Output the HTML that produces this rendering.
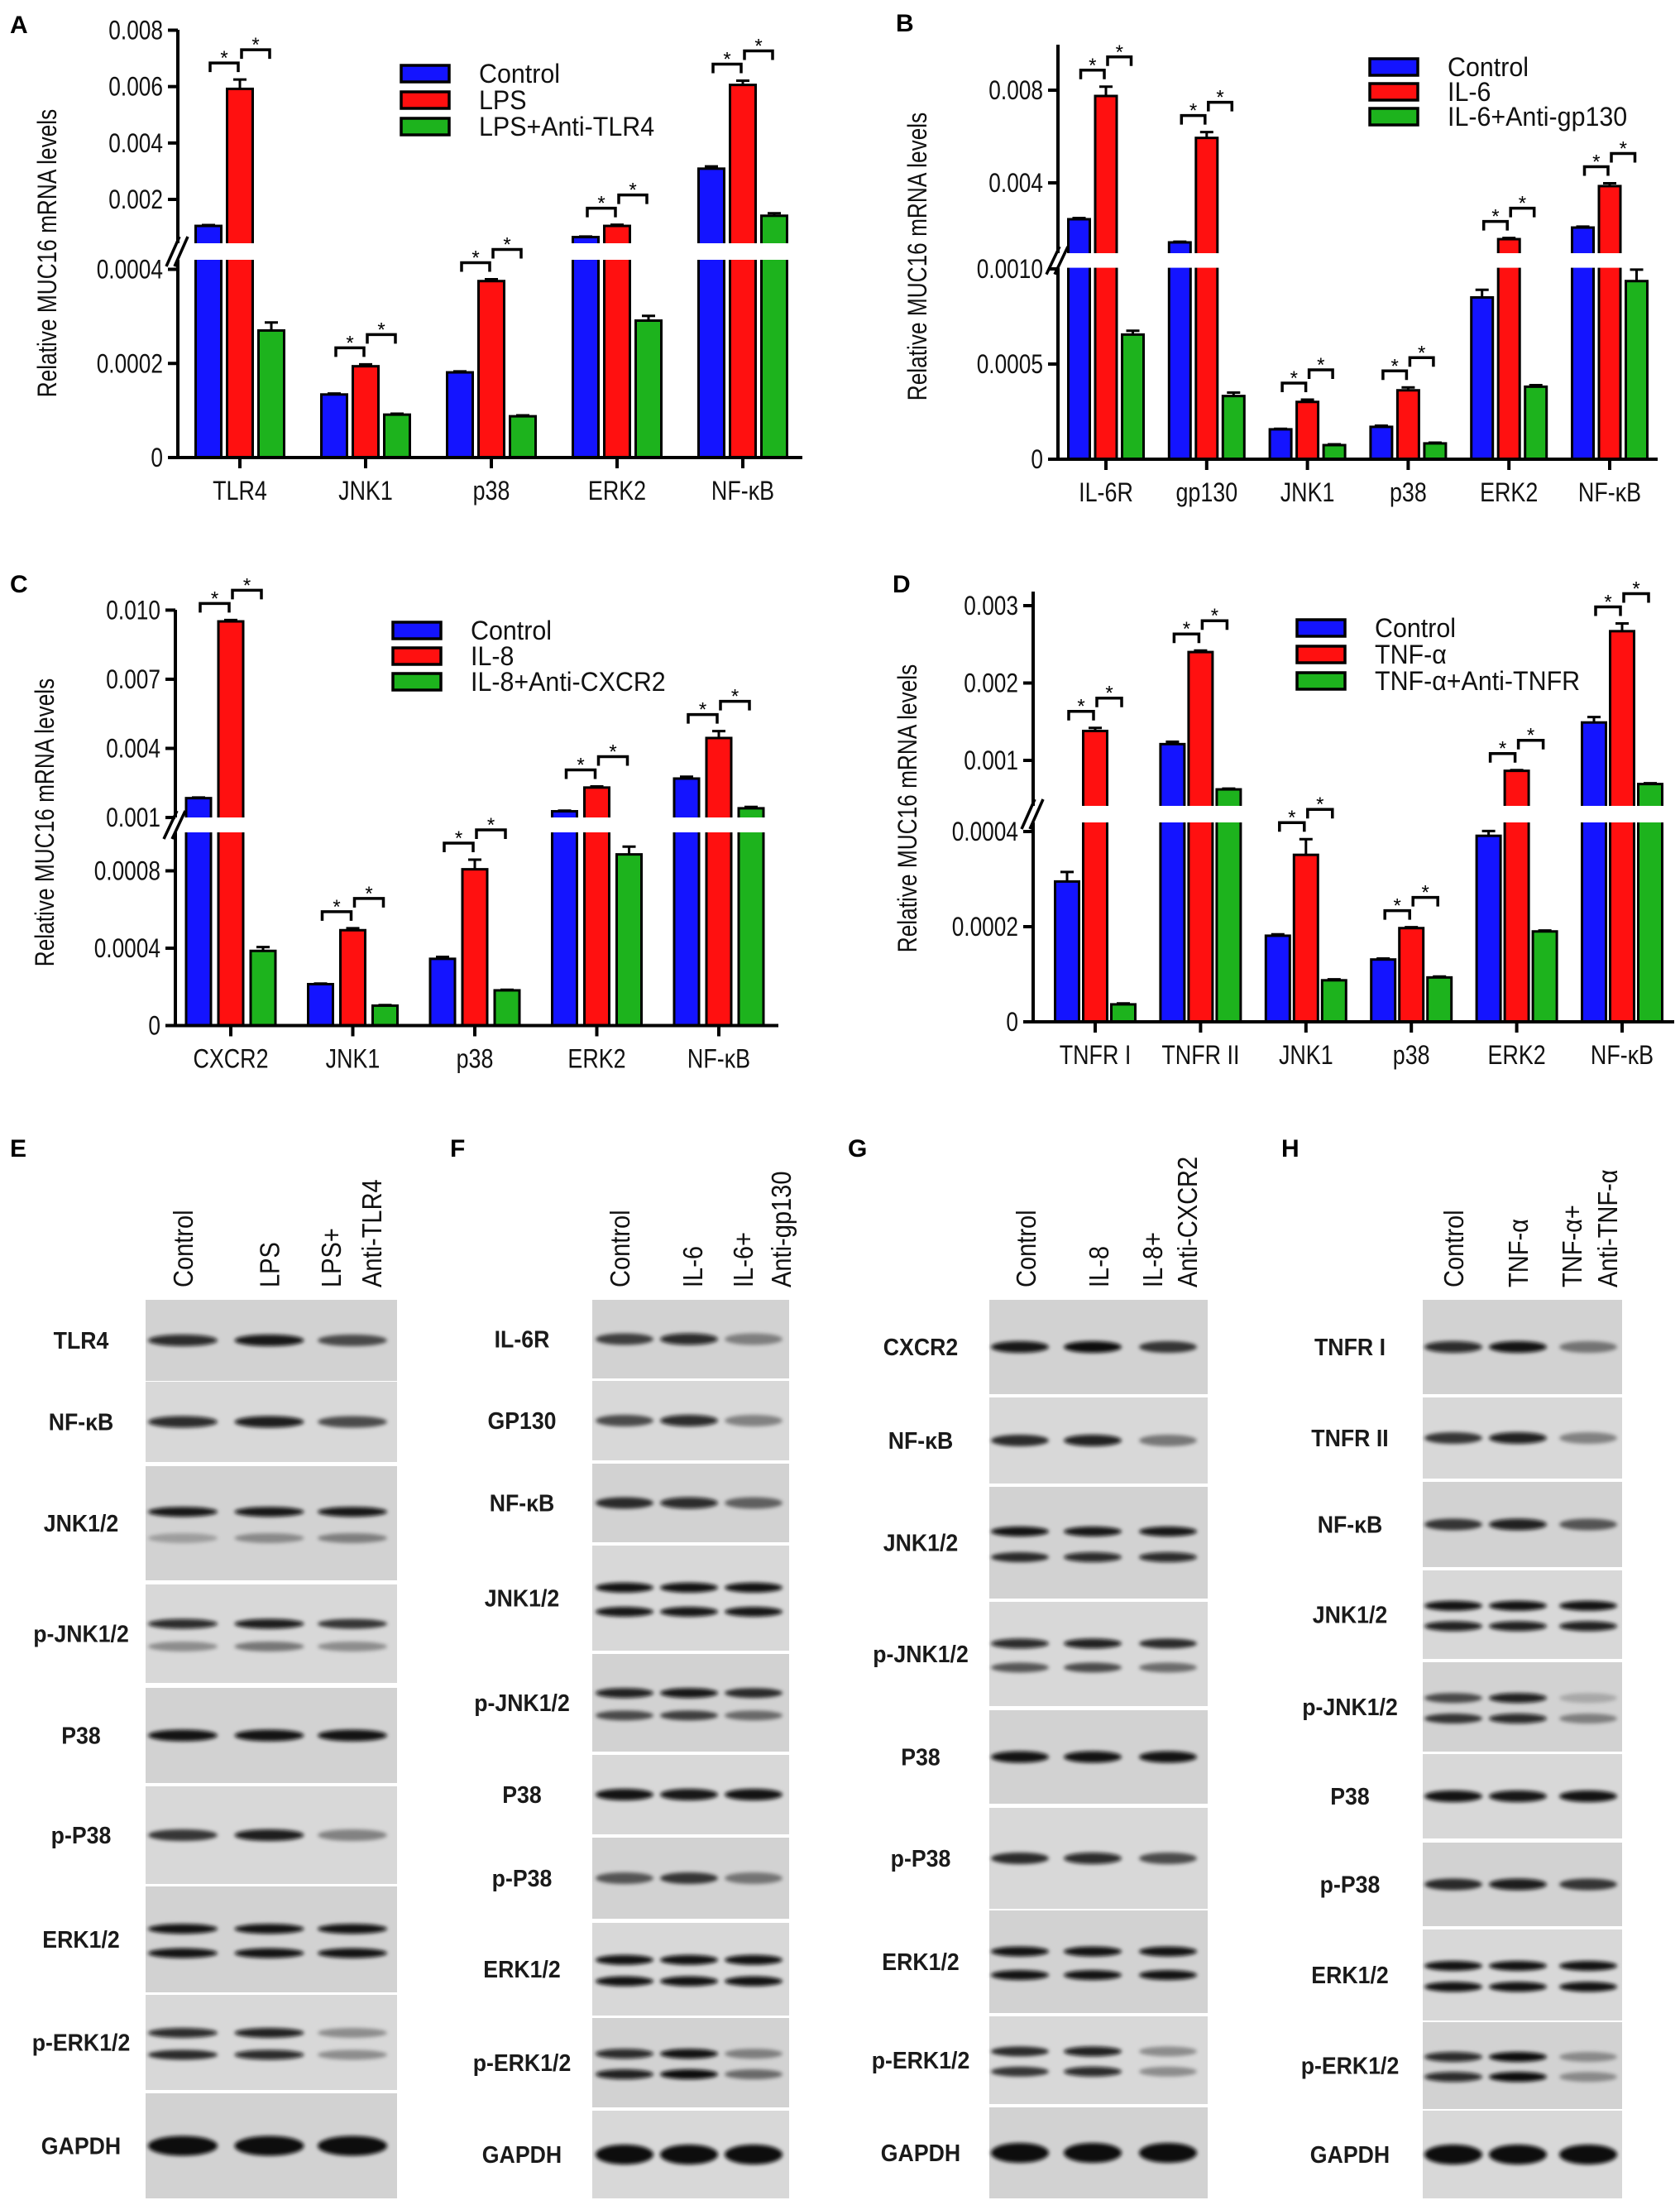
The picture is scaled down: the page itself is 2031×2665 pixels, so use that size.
<!DOCTYPE html>
<html><head><meta charset="utf-8"><title>MUC16 signalling figure</title>
<style>
html,body{margin:0;padding:0;background:#fff;}
svg{display:block;font-family:"Liberation Sans",Arial,sans-serif;}
</style></head>
<body>
<svg id="fig" width="2031" height="2665" viewBox="0 0 2031 2665" xmlns="http://www.w3.org/2000/svg">
<defs><filter id="blur" x="-20%" y="-100%" width="140%" height="300%"><feGaussianBlur stdDeviation="2.4"/></filter></defs>
</svg>
<script>
// ---------- Panel A data ----------
const aCategories=['TLR4','JNK1','p38','ERK2','NF-κB'];
const aLegend=['Control','LPS','LPS+Anti-TLR4'];
const aControl=[0.00106,0.000134,0.000181,0.000663,0.00309];
const aTreat=[0.00592,0.000194,0.000375,0.00106,0.00606];
const aAnti=[0.00027,0.0000912,0.0000877,0.000291,0.00142];
const aErrControl=[0.00003,0.000002,0.000002,0.00002,0.00008];
const aErrTreat=[0.00033,0.000004,0.000004,0.00004,0.00015];
const aErrAnti=[0.000017,0.000002,0.000002,0.00001,0.00009];
const aUpperTicks=[0.002,0.004,0.006,0.008];
const aUpperTickLabels=['0.002','0.004','0.006','0.008'];
const aLowerTicks=[0,0.0002,0.0004];
const aLowerTickLabels=['0','0.0002','0.0004'];
// ---------- Panel B data ----------
const bCategories=['IL-6R','gp130','JNK1','p38','ERK2','NF-κB'];
const bLegend=['Control','IL-6','IL-6+Anti-gp130'];
const bControl=[0.00243,0.00143,0.000157,0.00017,0.00085,0.00207];
const bTreat=[0.00775,0.00594,0.000301,0.000362,0.00157,0.00386];
const bAnti=[0.000655,0.000332,0.000074,0.000083,0.000381,0.000936];
const bErrControl=[0.00005,0.00003,0.000003,0.000006,0.00004,0.00004];
const bErrTreat=[0.0004,0.00025,0.000012,0.000015,0.00005,0.00012];
const bErrAnti=[0.00002,0.000018,0.000004,0.000004,0.000008,0.00006];
const bUpperTicks=[0.004,0.008];
const bUpperTickLabels=['0.004','0.008'];
const bLowerTicks=[0,0.0005,0.001];
const bLowerTickLabels=['0','0.0005','0.0010'];
// ---------- Panel C data ----------
const cCategories=['CXCR2','JNK1','p38','ERK2','NF-κB'];
const cLegend=['Control','IL-8','IL-8+Anti-CXCR2'];
const cControl=[0.00184,0.000214,0.000345,0.00127,0.00269];
const cTreat=[0.00951,0.000493,0.000808,0.0023,0.00445];
const cAnti=[0.000386,0.000103,0.000182,0.000885,0.0014];
const cErrControl=[0.00003,0.000003,0.00001,0.00003,0.00008];
const cErrTreat=[0.00006,0.00001,0.00005,0.00005,0.0003];
const cErrAnti=[0.00002,0.000003,0.000003,0.00004,0.00006];
const cUpperTicks=[0.001,0.004,0.007,0.010];
const cUpperTickLabels=['0.001','0.004','0.007','0.010'];
const cLowerTicks=[0,0.0004,0.0008];
const cLowerTickLabels=['0','0.0004','0.0008'];
// ---------- Panel D data ----------
const dCategories=['TNFR I','TNFR II','JNK1','p38','ERK2','NF-κB'];
const dLegend=['Control','TNF-α','TNF-α+Anti-TNFR'];
const dControl=[0.000295,0.00121,0.000181,0.000131,0.000391,0.00149];
const dTreat=[0.00138,0.0024,0.000351,0.000197,0.000865,0.00267];
const dAnti=[0.0000367,0.000625,0.0000873,0.0000933,0.00019,0.000694];
const dErrControl=[0.00002,0.00003,0.000003,0.000002,0.00001,0.00007];
const dErrTreat=[0.00004,0.00002,0.000033,0.000002,0.00001,0.0001];
const dErrAnti=[0.000002,0.00001,0.000002,0.000002,0.000002,0.00001];
const dUpperTicks=[0.001,0.002,0.003];
const dUpperTickLabels=['0.001','0.002','0.003'];
const dLowerTicks=[0,0.0002,0.0004];
const dLowerTickLabels=['0','0.0002','0.0004'];

// ---------- Blot data ----------
const eLabels=['TLR4','NF-κB','JNK1/2','p-JNK1/2','P38','p-P38','ERK1/2','p-ERK1/2','GAPDH'];
const eUpper=[[.85,.95,.65],[.85,.92,.65],[.95,.95,.95],[.85,.92,.75],[.97,.97,.97],[.75,.92,.4],[.97,.97,.97],[.85,.9,.35],[1,1,1]];
const eLower=[null,null,[.25,.35,.4],[.35,.45,.35],null,null,[.97,.97,.97],[.8,.85,.35],null];
const eHeaders=['Control','LPS','LPS+','Anti-TLR4'];
const fLabels=['IL-6R','GP130','NF-κB','JNK1/2','p-JNK1/2','P38','p-P38','ERK1/2','p-ERK1/2','GAPDH'];
const fUpper=[[.7,.85,.4],[.65,.85,.4],[.8,.85,.55],[.97,.97,.97],[.9,.95,.8],[.97,.95,.97],[.6,.75,.45],[.97,.97,.97],[.85,.97,.4],[1,1,1]];
const fLower=[null,null,null,[.95,.95,.95],[.65,.7,.5],null,null,[.97,.97,.97],[.9,1,.5],null];
const fHeaders=['Control','IL-6','IL-6+','Anti-gp130'];
const gLabels=['CXCR2','NF-κB','JNK1/2','p-JNK1/2','P38','p-P38','ERK1/2','p-ERK1/2','GAPDH'];
const gUpper=[[.95,1,.75],[.8,.9,.45],[.97,.95,.95],[.85,.9,.8],[.97,.97,.97],[.8,.85,.65],[.97,.97,.97],[.8,.9,.35],[1,1,1]];
const gLower=[null,null,[.8,.85,.85],[.6,.65,.5],null,null,[.97,.97,.97],[.75,.85,.35],null];
const gHeaders=['Control','IL-8','IL-8+','Anti-CXCR2'];
const hLabels=['TNFR  I','TNFR  II','NF-κB','JNK1/2','p-JNK1/2','P38','p-P38','ERK1/2','p-ERK1/2','GAPDH'];
const hUpper=[[.85,.97,.45],[.75,.9,.4],[.75,.9,.6],[.97,.97,.97],[.65,.9,.2],[.97,.95,.97],[.8,.92,.75],[.97,.97,.97],[.85,1,.35],[1,1,1]];
const hLower=[null,null,null,[.9,.9,.9],[.75,.85,.4],null,null,[.97,.97,.97],[.85,1,.35],null];
const hHeaders=['Control','TNF-α','TNF-α+','Anti-TNF-α'];

const NS='http://www.w3.org/2000/svg';
const svg=document.getElementById('fig');
function mk(tag,attrs,parent){const e=document.createElementNS(NS,tag);for(const k in attrs)e.setAttribute(k,attrs[k]);(parent||svg).appendChild(e);return e;}
function cond(el,f){try{const w=el.getComputedTextLength();if(w>0){el.setAttribute('textLength',(w*f).toFixed(1));el.setAttribute('lengthAdjust','spacingAndGlyphs');}}catch(e){}}
function lin(v,v1,y1,v2,y2){return y1+(v-v1)*(y2-y1)/(v2-v1);}
const COLORS=['#1414ff','#ff1010','#1db31d'];

function drawChart(L,letter,cats,legend,series,errs,uT,uTL,lT,lTL){
  const g=mk('g',{});
  
  
  const lowerY=v=>lin(v,L.l1v,L.l1y,L.l2v,L.l2y);
  const upperY=v=>lin(v,L.u1v,L.u1y,L.u2v,L.u2y);
  const lowerMax=L.l1v+(L.gapBot-L.l1y)*(L.l2v-L.l1v)/(L.l2y-L.l1y);
  const y=v=>v<=lowerMax?lowerY(v):upperY(v);
  const y0=lowerY(0);
  const tops=[];
  cats.forEach((c,i)=>{
    const cx=L.first+i*L.step;
    const t=[];
    series.forEach((s,k)=>{
      const bx=cx+(k-1)*L.bs;
      const yt=y(s[i]);
      const r=mk('rect',{x:bx-L.bw/2,y:yt,width:L.bw,height:y0-yt,fill:COLORS[k],stroke:'#000','stroke-width':3},g);
      
      
      const ye=y(s[i]+errs[k][i]);
      const eb=mk('path',{d:`M${bx} ${yt} V${ye} M${bx-8} ${ye} H${bx+8}`,stroke:'#000','stroke-width':3,fill:'none'},g);
      
      
      t.push(ye);
    });
    tops.push(t);
  });
  const ax=mk('line',{x1:L.ax,y1:L.top,x2:L.ax,y2:y0+2,stroke:'#000','stroke-width':4},g);
  
  
  const gap=mk('rect',{x:L.ax-22,y:L.gapTop,width:L.xEnd-L.ax+24,height:L.gapBot-L.gapTop,fill:'#fff'},g);
  
  
  const br=mk('path',{d:`M${L.ax-14} ${L.gapBot+8} L${L.ax+2} ${L.gapTop-8} M${L.ax-4} ${L.gapBot+8} L${L.ax+12} ${L.gapTop-8}`,stroke:'#000','stroke-width':3.5,fill:'none'},g);
  
  
  const tick=(yy,lab)=>{
    mk('line',{x1:L.ax-12,y1:yy,x2:L.ax,y2:yy,stroke:'#000','stroke-width':4},g);
    const tx=mk('text',{x:L.ax-18,y:yy+11,'font-size':32,'text-anchor':'end',fill:'#111'},g);
    tx.textContent=lab;
    
    
    cond(tx,0.82);
  };
  uT.forEach((v,i)=>tick(upperY(v),uTL[i]));
  lT.forEach((v,i)=>tick(lowerY(v),lTL[i]));
  const xa=mk('line',{x1:L.ax-2,y1:y0,x2:L.xEnd,y2:y0,stroke:'#000','stroke-width':4},g);
  
  
  cats.forEach((c,i)=>{
    const cx=L.first+i*L.step;
    mk('line',{x1:cx,y1:y0,x2:cx,y2:y0+13,stroke:'#000','stroke-width':4},g);
    const tx=mk('text',{x:cx,y:y0+51,'font-size':32,'text-anchor':'middle',fill:'#111'},g);
    tx.textContent=c;
    
    
    cond(tx,0.84);
    const t=tops[i];
    const b1=Math.min(t[0],t[1])-20;
    const b2=Math.min(b1,t[2]-20)-16;
    const x0=cx-L.bs,x2=cx+L.bs;
    [[x0,cx,b1],[cx,x2,b2]].forEach(([xa1,xa2,by])=>{
      const p=mk('path',{d:`M${xa1+2} ${by+11} V${by} H${xa2-2} V${by+11}`,stroke:'#000','stroke-width':3.5,fill:'none'},g);
      
      
      const s=mk('text',{x:(xa1+xa2)/2,y:by+2,'font-size':24,'text-anchor':'middle',fill:'#000'},g);
      s.textContent='*';
      
      
    });
  });
  const yt=mk('text',{x:0,y:0,'font-size':32,'text-anchor':'middle',fill:'#111',transform:`translate(${L.titleX},${L.titleY}) rotate(-90)`},g);
  yt.textContent='Relative MUC16 mRNA levels';
  
  
  cond(yt,0.82);
  legend.forEach((lab,k)=>{
    const ly=L.legY+k*L.legStep;
    const sw=mk('rect',{x:L.legX,y:ly-10,width:58,height:20,fill:COLORS[k],stroke:'#000','stroke-width':3.5},g);
    
    
    const lt=mk('text',{x:L.legX+94,y:ly+11,'font-size':32,fill:'#111'},g);
    lt.textContent=lab;
    
    
    cond(lt,0.95);
  });
  const pl=mk('text',{x:L.letterX,y:L.letterY,'font-size':30,'font-weight':'bold',fill:'#000'},g);
  pl.textContent=letter;
  
  
}

drawChart({ax:215,top:36,xEnd:970,first:290,step:152,bw:31,bs:38,u1v:0.002,u1y:241,u2v:0.008,u2y:36.5,gapTop:294,l1v:0,l1y:553,l2v:0.0004,l2y:325.5,gapBot:314,titleX:68,titleY:306,legX:485,legY:89,legStep:32,letterX:12,letterY:40},
  'A',aCategories,aLegend,[aControl,aTreat,aAnti],[aErrControl,aErrTreat,aErrAnti],aUpperTicks,aUpperTickLabels,aLowerTicks,aLowerTickLabels);
drawChart({ax:1279,top:54,xEnd:2004,first:1337,step:121.8,bw:26,bs:32.5,u1v:0.004,u1y:221,u2v:0.008,u2y:109,gapTop:306,l1v:0,l1y:555,l2v:0.0005,l2y:440,gapBot:323.6,titleX:1120,titleY:310,legX:1656,legY:81,legStep:30,letterX:1083,letterY:38},
  'B',bCategories,bLegend,[bControl,bTreat,bAnti],[bErrControl,bErrTreat,bErrAnti],bUpperTicks,bUpperTickLabels,bLowerTicks,bLowerTickLabels);
drawChart({ax:212,top:737,xEnd:941,first:279,step:147.5,bw:30,bs:39,u1v:0.004,u1y:904.5,u2v:0.010,u2y:737.4,gapTop:988,l1v:0,l1y:1239.5,l2v:0.0008,l2y:1052.5,gapBot:1006,titleX:65,titleY:994,legX:475,legY:762,legStep:31,letterX:12,letterY:716},
  'C',cCategories,cLegend,[cControl,cTreat,cAnti],[cErrControl,cErrTreat,cErrAnti],cUpperTicks,cUpperTickLabels,cLowerTicks,cLowerTickLabels);
drawChart({ax:1249,top:715,xEnd:2024,first:1324,step:127.4,bw:29,bs:34,u1v:0.001,u1y:919,u2v:0.003,u2y:732,gapTop:974,l1v:0,l1y:1235,l2v:0.0002,l2y:1120,gapBot:994,titleX:1108,titleY:977,legX:1568,legY:759,legStep:32,letterX:1079,letterY:716},
  'D',dCategories,dLegend,[dControl,dTreat,dAnti],[dErrControl,dErrTreat,dErrAnti],dUpperTicks,dUpperTickLabels,dLowerTicks,dLowerTickLabels);

function drawBlot(B,letter,labels,up,lo,headers){
  const g=mk('g',{});
  
  
  B.rows.forEach((r,i)=>{
    const [t,b]=r;
    const bg=mk('rect',{x:B.x0,y:t,width:B.x1-B.x0,height:b-t,fill:i%2?'#d8d8d8':'#d2d2d2'},g);
    
    
    const h=b-t;
    const isG=labels[i]==='GAPDH';
    const draw=(vals,cy,ry)=>vals.forEach((v,k)=>{
      const e=mk('ellipse',{cx:B.lanes[k],cy:cy,rx:B.rx,ry:ry,fill:'#080808','fill-opacity':v,filter:'url(#blur)'},g);
      
      
    });
    if(lo[i]){draw(up[i],t+h*0.4,6);draw(lo[i],t+h*0.63,6);}
    else draw(up[i],t+h*0.5,isG?12:7);
    const lt=mk('text',{x:B.labX,y:t+h/2+10,'font-size':29,'font-weight':'bold','text-anchor':'middle',fill:'#1a1a1a'},g);
    lt.textContent=labels[i];
    
    
    cond(lt,0.92);
  });
  headers.forEach((hd,k)=>{
    const tx=mk('text',{x:0,y:0,'font-size':33,fill:'#111',transform:`translate(${B.hx[k]+12},1556) rotate(-90)`},g);
    tx.textContent=hd;
    
    
    cond(tx,0.88);
  });
  const pl=mk('text',{x:B.letterX,y:1398,'font-size':30,'font-weight':'bold',fill:'#000'},g);
  pl.textContent=letter;
  
  
}

drawBlot({x0:176,x1:480,labX:98,rx:42,lanes:[221,325.5,426],hx:[221,325.5,400,449],letterX:12,
  rows:[[1571,1669],[1670,1767],[1772,1910],[1915,2034],[2040,2155],[2159,2277],[2280,2408],[2411,2526],[2530,2657]]},'E',eLabels,eUpper,eLower,eHeaders);
drawBlot({x0:716,x1:954,labX:631,rx:35,lanes:[755,833,911],hx:[749,837,898,944],letterX:544,
  rows:[[1571,1666],[1669,1765],[1769,1864],[1868,1995],[1999,2117],[2121,2217],[2221,2319],[2324,2436],[2439,2547],[2551,2657]]},'F',fLabels,fUpper,fLower,fHeaders);
drawBlot({x0:1196,x1:1460,labX:1113,rx:35,lanes:[1233,1321,1412],hx:[1240,1328,1393,1435],letterX:1025,
  rows:[[1571,1685],[1689,1793],[1797,1932],[1936,2062],[2067,2180],[2185,2307],[2309,2433],[2437,2543],[2547,2657]]},'G',gLabels,gUpper,gLower,gHeaders);
drawBlot({x0:1720,x1:1961,labX:1632,rx:35,lanes:[1757,1835,1920],hx:[1757,1835,1900,1943],letterX:1549,
  rows:[[1571,1685],[1689,1787],[1791,1894],[1898,2005],[2009,2117],[2120,2222],[2227,2328],[2332,2442],[2444,2549],[2551,2657]]},'H',hLabels,hUpper,hLower,hHeaders);
</script>
</body></html>
